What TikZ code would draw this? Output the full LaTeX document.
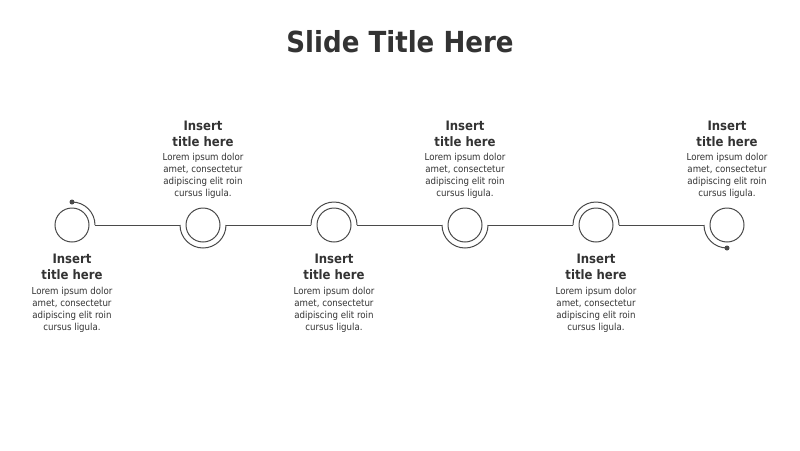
\documentclass[tikz,border=0pt]{standalone}
\usepackage{fontspec}
\setmainfont{DejaVu Sans}[FakeStretch=0.9]
\definecolor{txt}{HTML}{333333}
\definecolor{ln}{HTML}{4A4A4A}
\begin{document}
\begin{tikzpicture}[x=1pt,y=-1pt,
  ring/.style={draw=ln,line width=1pt,circle,minimum size=34pt,inner sep=0pt},
  arcline/.style={draw=ln,line width=1pt},
  ttl/.style={text=txt,font=\bfseries\fontsize{13}{16}\selectfont,align=center,inner sep=0pt},
  bdy/.style={text=txt,font=\fontsize{9.6}{12}\selectfont,align=center,inner sep=0pt},
  dotst/.style={fill=ln,circle,inner sep=0pt,minimum size=5pt}]
\useasboundingbox (0,0) rectangle (800,450);
\node[text=txt,font=\bfseries\fontsize{29}{34}\selectfont] (title) at (400,42) {Slide Title Here};
% rings
\foreach \i/\x in {1/72,2/203,3/334,4/465,5/596,6/727}{
  \node[ring] (c\i) at (\x,225) {};
}
% outer arcs
\node[dotst] (d1) at (72,202) {};
\coordinate (a1) at (95,225);
\draw[arcline] (d1.center) arc[start angle=90,end angle=0,radius=23pt];
\coordinate (l2) at (180,225); \coordinate (r2) at (226,225);
\draw[arcline] (l2) arc[start angle=180,end angle=360,radius=23pt];
\coordinate (l3) at (311,225); \coordinate (r3) at (357,225);
\draw[arcline] (l3) arc[start angle=180,end angle=0,radius=23pt];
\coordinate (l4) at (442,225); \coordinate (r4) at (488,225);
\draw[arcline] (l4) arc[start angle=180,end angle=360,radius=23pt];
\coordinate (l5) at (573,225); \coordinate (r5) at (619,225);
\draw[arcline] (l5) arc[start angle=180,end angle=0,radius=23pt];
\coordinate (l6) at (704,225);
\node[dotst] (d6) at (727,248) {};
\draw[arcline] (l6) arc[start angle=180,end angle=270,radius=23pt];
% connecting lines
\draw[arcline] (a1) -- (l2);
\draw[arcline] (r2) -- (l3);
\draw[arcline] (r3) -- (l4);
\draw[arcline] (r4) -- (l5);
\draw[arcline] (r5) -- (l6);
% texts top
\foreach \i/\x in {2/203,4/465,6/727}{
  \node[ttl,anchor=base] (t\i) at (\x,146.5) {Insert\\title here};
  \node[bdy,anchor=base] (b\i) at (\x,196) {Lorem ipsum dolor\\amet, consectetur\\adipiscing elit roin\\cursus ligula.};
}
\foreach \i/\x in {1/72,3/334,5/596}{
  \node[ttl,anchor=base] (t\i) at (\x,279.5) {Insert\\title here};
  \node[bdy,anchor=base] (b\i) at (\x,330) {Lorem ipsum dolor\\amet, consectetur\\adipiscing elit roin\\cursus ligula.};
}
\end{tikzpicture}
\end{document}
